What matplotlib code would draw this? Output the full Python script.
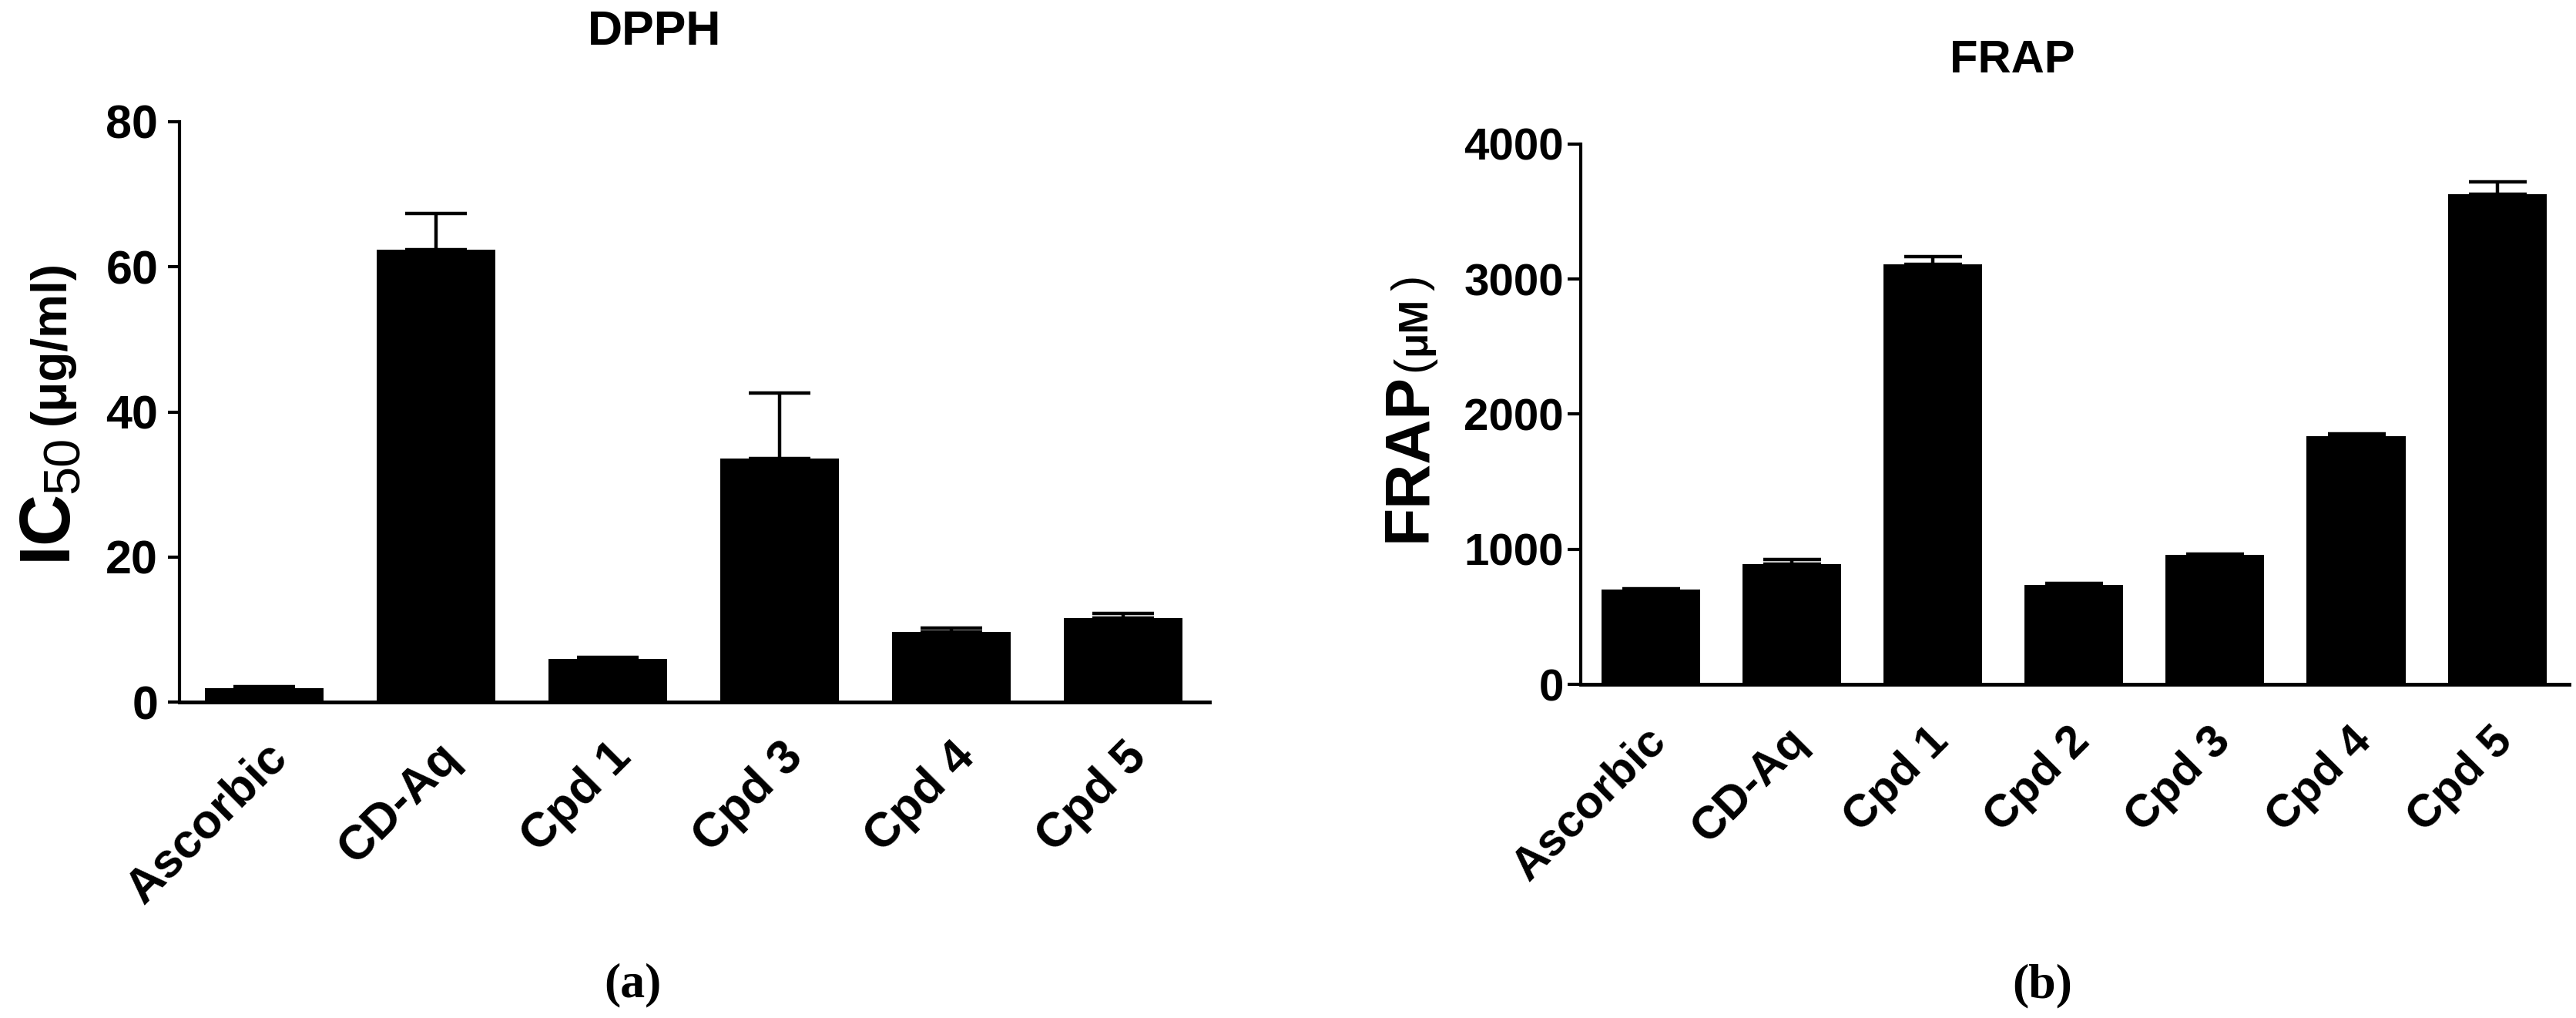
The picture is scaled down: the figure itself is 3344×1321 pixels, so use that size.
import matplotlib
matplotlib.use("Agg")
import matplotlib.pyplot as plt
import numpy as np
from matplotlib.transforms import ScaledTranslation

# ---------------- data ----------------
dpph_labels = ["Ascorbic", "CD-Aq", "Cpd 1", "Cpd 3", "Cpd 4", "Cpd 5"]
dpph_values = [1.9, 62.4, 6.0, 33.6, 9.7, 11.6]
dpph_errors = [0.2, 5.0, 0.2, 9.0, 0.5, 0.6]
dpph_ticks = [0, 20, 40, 60, 80]

frap_labels = ["Ascorbic", "CD-Aq", "Cpd 1", "Cpd 2", "Cpd 3", "Cpd 4", "Cpd 5"]
frap_values = [700, 890, 3110, 735, 960, 1840, 3630]
frap_errors = [5, 35, 55, 15, 5, 15, 90]
frap_ticks = [0, 1000, 2000, 3000, 4000]

W, H = 3344, 1321
DPI = 100
plt.rcParams["font.family"] = ["Liberation Sans", "DejaVu Sans"]

fig = plt.figure(figsize=(W / DPI, H / DPI), dpi=DPI)
fig.patch.set_facecolor("white")


def fx(px):
    return px / W


def fy(py):
    return (H - py) / H


def make_panel(rect, labels, values, errors, ticks, xlim, width, capsize,
               ytick_size, xtick_size, ypad, ylen, xpad, xdx):
    ax = fig.add_axes(rect)
    x = np.arange(len(labels))
    ax.bar(x, values, width=width, color="black", edgecolor="none", zorder=2)
    ax.errorbar(x, values, yerr=[np.zeros(len(errors)), errors], fmt="none",
                ecolor="black", elinewidth=3.2, capsize=capsize, capthick=3.2,
                zorder=3)
    ax.set_xlim(*xlim)
    ax.set_ylim(ticks[0], ticks[-1])
    ax.set_yticks(ticks)
    ax.set_yticklabels([str(t) for t in ticks], fontsize=ytick_size,
                       fontweight="bold")
    ax.set_xticks(x)
    ax.set_xticklabels(labels, fontsize=xtick_size, fontweight="bold")
    for s in ("top", "right"):
        ax.spines[s].set_visible(False)
    ax.spines["left"].set_linewidth(3.0)
    ax.spines["bottom"].set_linewidth(3.5)
    ax.tick_params(axis="y", length=ylen, width=3, pad=ypad, direction="out")
    ax.tick_params(axis="x", length=0, pad=xpad)
    plt.setp(ax.get_xticklabels(), rotation=45, ha="right", va="top",
             rotation_mode="anchor")
    off = ScaledTranslation(xdx / DPI, 0, fig.dpi_scale_trans)
    for lbl in ax.get_xticklabels():
        lbl.set_transform(lbl.get_transform() + off)
    ax.set_facecolor("white")
    return ax


# panel (a) DPPH
ax1 = make_panel([fx(233), fy(911), fx(1570) - fx(233), fy(158) - fy(911)],
                 dpph_labels, dpph_values, dpph_errors, dpph_ticks,
                 (-0.493, 5.5), 0.69, 29, 44, 45, 9, 11, 30, 0)

# panel (b) FRAP
ax2 = make_panel([fx(2052), fy(888), fx(3335) - fx(2052), fy(187) - fy(888)],
                 frap_labels, frap_values, frap_errors, frap_ticks,
                 (-0.497, 6.51), 0.70, 27, 42, 43, 4, 12, 33, -8)

# titles
fig.text(fx(850), fy(42), "DPPH", fontsize=45, fontweight="bold",
         ha="center", va="center")
fig.text(fx(2612), fy(78), "FRAP", fontsize=43, fontweight="bold",
         ha="center", va="center")

# y label (a): IC50 (μg/ml)
kw = dict(rotation=90, rotation_mode="anchor", ha="left", va="baseline")
fig.text(fx(85), fy(727), "IC", fontsize=67, fontweight="bold", **kw)
fig.text(fx(102), fy(640), "50", fontsize=48, fontweight="normal", **kw)
fig.text(fx(84), fy(551), "(μg/ml)", fontsize=46, fontweight="bold", **kw)

# y label (b): FRAP(μM)
fig.text(fx(1850), fy(703), "FRAP", fontsize=58, fontweight="bold", **kw)
fig.text(fx(1850), fy(482), "(", fontsize=44, fontweight="normal", **kw)
fig.text(fx(1850), fy(461), "μM", fontsize=38, fontweight="bold", **kw)
fig.text(fx(1850), fy(377), ")", fontsize=44, fontweight="normal", **kw)

# panel letters
fig.text(fx(821), fy(1278), "(a)", fontsize=46, fontweight="bold",
         family=["Liberation Serif", "DejaVu Serif"], ha="center", va="center")
fig.text(fx(2651), fy(1279), "(b)", fontsize=46, fontweight="bold",
         family=["Liberation Serif", "DejaVu Serif"], ha="center", va="center")

fig.savefig("out.png", dpi=DPI, facecolor="white")
